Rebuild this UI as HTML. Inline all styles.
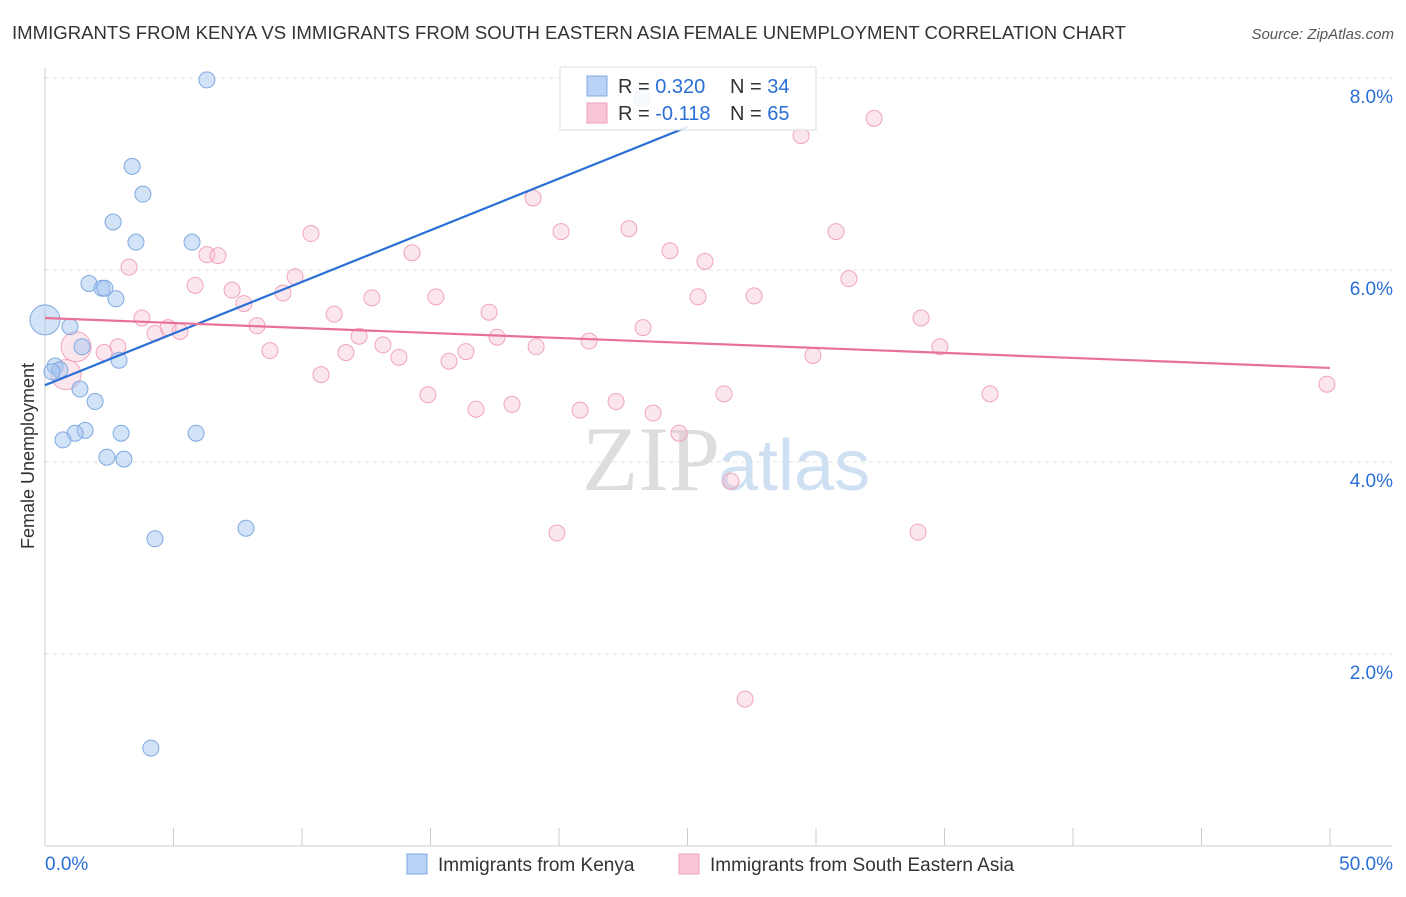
<!DOCTYPE html>
<html><head><meta charset="utf-8"><style>
body{margin:0;background:#fff;font-family:"Liberation Sans",sans-serif;}
</style></head><body>
<svg width="1406" height="892" xmlns="http://www.w3.org/2000/svg" font-family="Liberation Sans, sans-serif">
<text x="12" y="39" font-size="18" fill="#333" textLength="1114" lengthAdjust="spacingAndGlyphs">IMMIGRANTS FROM KENYA VS IMMIGRANTS FROM SOUTH EASTERN ASIA FEMALE UNEMPLOYMENT CORRELATION CHART</text>
<text x="1394" y="39" font-size="15" fill="#555" font-style="italic" text-anchor="end">Source: ZipAtlas.com</text>
<g id="grid"></g>
<text x="720" y="490" font-size="92" fill="#ddd" font-family="Liberation Serif, serif" text-anchor="end">ZIP</text>
<text x="718" y="490" font-size="72" fill="#cfe0f3">atlas</text>
<g id="axes"></g>
<g id="pts"></g>
<g id="lines"></g>
<text transform="translate(34,456) rotate(-90)" font-size="18" fill="#333" text-anchor="middle">Female Unemployment</text>
<g>
<rect x="560" y="67" width="256" height="63" fill="#fff" fill-opacity="0.85" stroke="#ddd"/>
<rect x="587" y="76" width="20" height="20" fill="#b9d2f5" stroke="#7fa9e0"/>
<rect x="587" y="103" width="20" height="20" fill="#f9c6d6" stroke="#f0a0b8"/>
<text x="618" y="93" font-size="20" fill="#333">R = <tspan fill="#2a6fd6">0.320</tspan></text>
<text x="730" y="93" font-size="20" fill="#333">N = <tspan fill="#2a6fd6">34</tspan></text>
<text x="618" y="120" font-size="20" fill="#333">R = <tspan fill="#2a6fd6">-0.118</tspan></text>
<text x="730" y="120" font-size="20" fill="#333">N = <tspan fill="#2a6fd6">65</tspan></text>
</g>
<g>
<rect x="407" y="854" width="20" height="20" fill="#b9d2f5" stroke="#7fa9e0"/>
<text x="438" y="871" font-size="19" fill="#333">Immigrants from Kenya</text>
<rect x="679" y="854" width="20" height="20" fill="#f9c6d6" stroke="#f0a0b8"/>
<text x="710" y="871" font-size="19" fill="#333">Immigrants from South Eastern Asia</text>
</g>
</svg>
<script>
const NS="http://www.w3.org/2000/svg";
const yTicks=[2,4,6,8];
const yTickLabels=["2.0%","4.0%","6.0%","8.0%"];
const xEndLabels=["0.0%","50.0%"];
const kenyaX=[6.30,3.39,3.81,2.65,3.54,5.72,1.71,2.22,2.33,2.76,0,0.97,1.44,2.88,0.39,0.58,0.27,1.36,1.95,1.56,1.17,0.70,2.96,5.88,2.41,3.07,7.82,4.28,4.12,23.23];
const kenyaY=[7.98,7.08,6.79,6.50,6.29,6.29,5.86,5.81,5.81,5.70,5.48,5.41,5.20,5.06,5.00,4.96,4.94,4.76,4.63,4.33,4.30,4.23,4.30,4.30,4.05,4.03,3.31,3.20,1.02,7.79];
const kenyaBig=[0,0,0,0,0,0,0,0,0,0,1,0,0,0,0,0,0,0,0,0,0,0,0,0,0,0,0,0,0,0];
const seaX=[32.26,29.42,18.99,20.08,22.72,30.78,10.35,24.32,14.28,25.68,6.30,6.73,3.27,9.73,31.28,5.84,7.28,9.26,25.41,27.59,15.21,12.72,7.74,17.28,11.25,3.77,34.09,8.25,23.27,4.79,5.25,4.28,12.22,17.59,21.17,19.11,13.15,34.82,1.21,8.75,11.71,16.38,2.84,2.30,29.88,13.77,15.72,0.82,10.74,49.88,26.42,36.77,14.90,22.22,18.17,16.77,20.82,23.66,24.67,26.69,19.92,33.97,27.24];
const seaY=[7.58,7.40,6.75,6.40,6.43,6.40,6.38,6.20,6.18,6.09,6.16,6.15,6.03,5.93,5.91,5.84,5.79,5.76,5.72,5.73,5.72,5.71,5.65,5.56,5.54,5.50,5.50,5.42,5.40,5.40,5.36,5.34,5.31,5.30,5.26,5.20,5.22,5.20,5.20,5.16,5.14,5.15,5.20,5.14,5.11,5.09,5.05,4.91,4.91,4.81,4.71,4.71,4.70,4.63,4.60,4.55,4.54,4.51,4.30,3.80,3.26,3.27,1.53];
const seaBig=[0,0,0,0,0,0,0,0,0,0,0,0,0,0,0,0,0,0,0,0,0,0,0,0,0,0,0,0,0,0,0,0,0,0,0,0,0,0,1,0,0,0,0,0,0,0,0,1,0,0,0,0,0,0,0,0,0,0,0,0,0,0,0];
const kenyaTrend=[0,4.8,25,7.49];
const seaTrend=[0,5.5,50,4.98];
const X=v=>45+v/50*1285, Y=v=>846-v*96;
function mk(t,a,p){const e=document.createElementNS(NS,t);for(const k in a)e.setAttribute(k,a[k]);p.appendChild(e);return e;}
const grid=document.getElementById('grid'),axes=document.getElementById('axes'),pts=document.getElementById('pts'),lines=document.getElementById('lines');
yTicks.forEach((t,i)=>{
 const l=mk('line',{x1:45,x2:1392,y1:Y(t),y2:Y(t),stroke:'#e2e2e2','stroke-dasharray':'4,4'},grid);
 
 
 const tx=mk('text',{x:1393,y:Y(t)+25,'font-size':19,fill:'#2a6fd6','text-anchor':'end'},axes);
 tx.textContent=yTickLabels[i];
 
 
});
const ax=mk('line',{x1:45,x2:45,y1:68,y2:846,stroke:'#ccc'},axes);


const bx=mk('line',{x1:45,x2:1392,y1:846,y2:846,stroke:'#ccc'},axes);


for(let i=0;i<=10;i++){
 const t=mk('line',{x1:X(i*5),x2:X(i*5),y1:828,y2:846,stroke:'#ccc'},axes);
 
 
}
[[0,'start',45],[1,'end',1393]].forEach(([i,a,x])=>{
 const t=mk('text',{x:x,y:870,'font-size':19,fill:'#2a6fd6','text-anchor':a},axes);
 t.textContent=xEndLabels[i];
 
 
});
function draw(xs,ys,big,fill,stroke,name){
 xs.forEach((x,i)=>{
  const c=mk('circle',{cx:X(x),cy:Y(ys[i]),r:big[i]?15:8,fill:fill,stroke:stroke,'stroke-width':1},pts);
  
  
 });
}
draw(seaX,seaY,seaBig,'rgba(246,182,202,0.35)','#f0a4bc','point-sea');
draw(kenyaX,kenyaY,kenyaBig,'rgba(165,198,240,0.5)','#7fa9e0','point-kenya');
const l1=mk('line',{x1:X(kenyaTrend[0]),y1:Y(kenyaTrend[1]),x2:X(kenyaTrend[2]),y2:Y(kenyaTrend[3]),stroke:'#2a6fd6','stroke-width':2.2},lines);


const l2=mk('line',{x1:X(seaTrend[0]),y1:Y(seaTrend[1]),x2:X(seaTrend[2]),y2:Y(seaTrend[3]),stroke:'#e8719a','stroke-width':2.2},lines);


</script>
</body></html>
